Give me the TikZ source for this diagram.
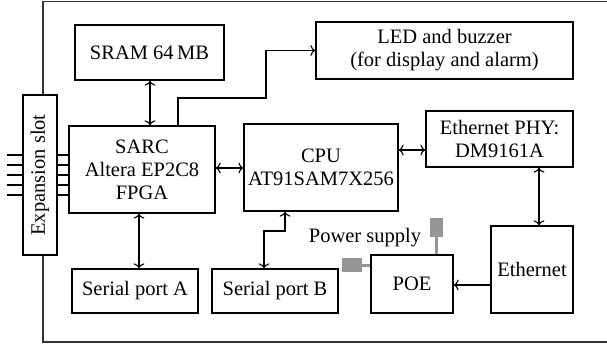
\documentclass[tikz,border=0pt]{standalone}
\usepackage{fontspec}
\setmainfont{Liberation Serif}
\usetikzlibrary{arrows.meta}
\definecolor{plug}{RGB}{150,150,150}
\definecolor{frame}{RGB}{50,50,50}
\begin{document}
\begin{tikzpicture}[x=1pt,y=-1pt,
  blk/.style={draw,line width=1.3pt,inner sep=0pt,align=center,font=\fontsize{20.5}{23}\selectfont},
  tip/.style={line width=1.1pt},
  >={To[length=5pt,width=11pt]}]
\useasboundingbox (0,0) rectangle (607,345);
% outer frame
\draw[frame,line width=1.4pt] (607,1.5) -- (43,1.5) -- (43,95);
\draw[frame,line width=1.4pt] (43,255) -- (43,342) -- (607,342);
% boxes
\node[blk,minimum width=149pt,minimum height=55pt] (sram) at (149.5,52.5) {SRAM 64\,MB};
\node[blk,minimum width=146pt,minimum height=87pt] (sarc) at (142,169.5) {SARC\\Altera EP2C8\\FPGA};
\node[blk,minimum width=154pt,minimum height=87pt] (cpu) at (321,167.5) {CPU\\AT91SAM7X256};
\node[blk,minimum width=257pt,minimum height=57pt] (led) at (444.5,50.5) {LED and buzzer\\(for display and alarm)};
\node[blk,minimum width=147pt,minimum height=56pt] (phy) at (499.5,139) {Ethernet PHY:\\DM9161A};
\node[blk,minimum width=82pt,minimum height=87pt] (eth) at (532,269.5) {Ethernet};
\node[blk,minimum width=82pt,minimum height=58pt] (poe) at (412,284) {POE};
\node[blk,minimum width=126pt,minimum height=44pt] (sera) at (135,291) {Serial port A};
\node[blk,minimum width=126pt,minimum height=44pt] (serb) at (275,291) {Serial port B};
\node[blk,minimum width=160pt,minimum height=34pt,rotate=90] (slot) at (40,175) {Expansion slot};
\node[font=\fontsize{20.5}{23}\selectfont,inner sep=0pt] (ps) at (365,238) {Power supply};
% pins
\foreach \y in {155,165,175,185,195}{
  \draw[line width=1.1pt] (7,\y) -- (slot.north |- 0,\y);
  \draw[line width=1.1pt] (slot.south |- 0,\y) -- (sarc.west |- 0,\y);
}
% connectors
\draw[tip,<->] (sram.south -| 150,0) -- (sarc.north -| 150,0);
\coordinate (bend) at (266,98);
\draw[tip,->] (sarc.north -| 178,0) |- (bend) |- (led.west);
\draw[tip,<->] (sarc.east |- 0,168) -- (cpu.west |- 0,168);
\draw[tip,<->] (cpu.east |- 0,150) -- (phy.west |- 0,150);
\draw[tip,<->] (phy.south -| 539,0) -- (eth.north -| 539,0);
\draw[tip,->] (eth.west |- 0,285) -- (poe.east |- 0,285);
\draw[tip,<->] (sarc.south -| 139,0) -- (sera.north -| 139,0);
\coordinate (sbend) at (264,231);
\draw[tip,<->] (cpu.south -| 285,0) |- (sbend) -- (serb.north -| 264,0);
% power plugs
\fill[plug] (430,218) rectangle (443,237);
\draw[plug,line width=3pt] (436.5,237) -- (poe.north -| 436.5,0);
\fill[plug] (342,258) rectangle (362,272);
\draw[plug,line width=3pt] (362,265) -- (poe.west |- 0,265);
\end{tikzpicture}
\end{document}
